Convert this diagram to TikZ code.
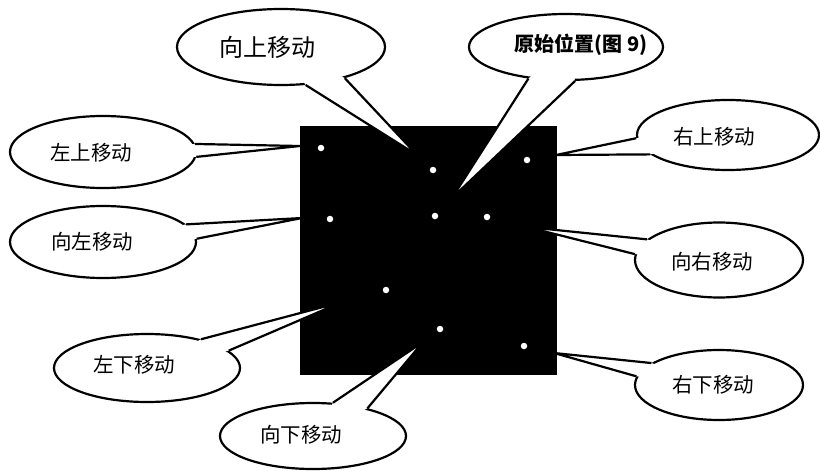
\documentclass[tikz,border=0pt]{standalone}
\usepackage{fontspec}
\newfontfamily\cjk{Noto Sans CJK SC}
\usetikzlibrary{shapes.geometric}
\tikzset{
  bubble/.style={ellipse, draw=black, fill=white, line width=2.2pt, inner sep=0pt},
  tailfill/.style={fill=white},
  tailline/.style={draw=black, line width=2.2pt, line join=round},
  lbl/.style={inner sep=0pt, font=\cjk\fontsize{20.5}{24}\selectfont},
  dotw/.style={circle, fill=white, inner sep=0pt, minimum size=6.5pt},
}
\begin{document}
\begin{tikzpicture}[x=1pt,y=-1pt]
\useasboundingbox (0,0) rectangle (820,471);
\fill[white] (0,0) rectangle (820,471);
% black plate
\node[fill=black, inner sep=0pt, minimum width=257pt, minimum height=249pt, anchor=north west] (plate) at (300,126) {};
% white dots
\node[dotw] (d1) at (321,148) {};
\node[dotw] (d2) at (433,170) {};
\node[dotw] (d3) at (527,160) {};
\node[dotw] (d4) at (330,219) {};
\node[dotw] (d5) at (435,216) {};
\node[dotw] (d6) at (487,217) {};
\node[dotw] (d7) at (386,290) {};
\node[dotw] (d8) at (440,329) {};
\node[dotw] (d9) at (524,346) {};
% tips
\coordinate (p1) at (417,155);
\coordinate (p2) at (452,198);
\coordinate (p3) at (556,155);
\coordinate (p4) at (300,146);
\coordinate (p5) at (302,218);
\coordinate (p6) at (342,302);
\coordinate (p7) at (423,342);
\coordinate (p8) at (554,353);
\coordinate (p9) at (527,227);
% 1 up
\node[bubble, minimum width=208pt, minimum height=76pt] (c1) at (281,47) {};
\fill[tailfill] (c1.-57.7) -- (p1) -- (c1.-26.9) -- (c1.center) -- cycle;
\draw[tailline] (c1.-57.7) -- (p1) -- (c1.-26.9);
\node[lbl, font=\cjk\fontsize{24}{28}\selectfont] (t1) at (267,47) {向上移动};
% 2 original
\node[bubble, minimum width=194pt, minimum height=66pt] (c2) at (566,47) {};
\fill[tailfill] (c2.-140.5) -- (p2) -- (c2.-75.6) -- (c2.center) -- cycle;
\draw[tailline] (c2.-140.5) -- (p2) -- (c2.-75.6);
\node[lbl, font=\cjk\bfseries\fontsize{20}{24}\selectfont] (t2) at (581,45) {原始位置(图 9)};
% 3 up right
\node[bubble, minimum width=182pt, minimum height=70pt] (c3) at (728,135) {};
\fill[tailfill] (c3.-178.5) -- (p3) -- (c3.-166) -- (c3.center) -- cycle;
\draw[tailline] (c3.-178.5) -- (p3) -- (c3.-166);
\node[lbl] (t3) at (714,137) {右上移动};
% 4 up left
\node[bubble, minimum width=186pt, minimum height=72pt] (c4) at (103,152) {};
\fill[tailfill] (c4.5.8) -- (p4) -- (c4.-3) -- (c4.center) -- cycle;
\draw[tailline] (c4.5.8) -- (p4) -- (c4.-3);
\node[lbl] (t4) at (91,153) {左上移动};
% 5 left
\node[bubble, minimum width=186pt, minimum height=72pt] (c5) at (103,242) {};
\fill[tailfill] (c5.12) -- (p5) -- (c5.2.4) -- (c5.center) -- cycle;
\draw[tailline] (c5.12) -- (p5) -- (c5.2.4);
\node[lbl] (t5) at (92,242) {向左移动};
% 6 down left
\node[bubble, minimum width=186pt, minimum height=68pt] (c6) at (147,368) {};
\fill[tailfill] (c6.28.2) -- (p6) -- (c6.12.9) -- (c6.center) -- cycle;
\draw[tailline] (c6.28.2) -- (p6) -- (c6.12.9);
\node[lbl] (t6) at (134,365) {左下移动};
% 7 down
\node[bubble, minimum width=186pt, minimum height=66pt] (c7) at (313,436) {};
\fill[tailfill] (c7.59.5) -- (p7) -- (c7.27.8) -- (c7.center) -- cycle;
\draw[tailline] (c7.59.5) -- (p7) -- (c7.27.8);
\node[lbl] (t7) at (301,435) {向下移动};
% 8 down right
\node[bubble, minimum width=168pt, minimum height=70pt] (c8) at (719,385) {};
\fill[tailfill] (c8.162.3) -- (p8) -- (c8.174.4) -- (c8.center) -- cycle;
\draw[tailline] (c8.162.3) -- (p8) -- (c8.174.4);
\node[lbl] (t8) at (713,385) {右下移动};
% 9 right
\node[bubble, minimum width=168pt, minimum height=75pt] (c9) at (719,260) {};
\fill[tailfill] (c9.164.3) -- (p9) -- (c9.176.6) -- (c9.center) -- cycle;
\draw[tailline] (c9.164.3) -- (p9) -- (c9.176.6);
\node[lbl] (t9) at (712,262) {向右移动};
\end{tikzpicture}
\end{document}
